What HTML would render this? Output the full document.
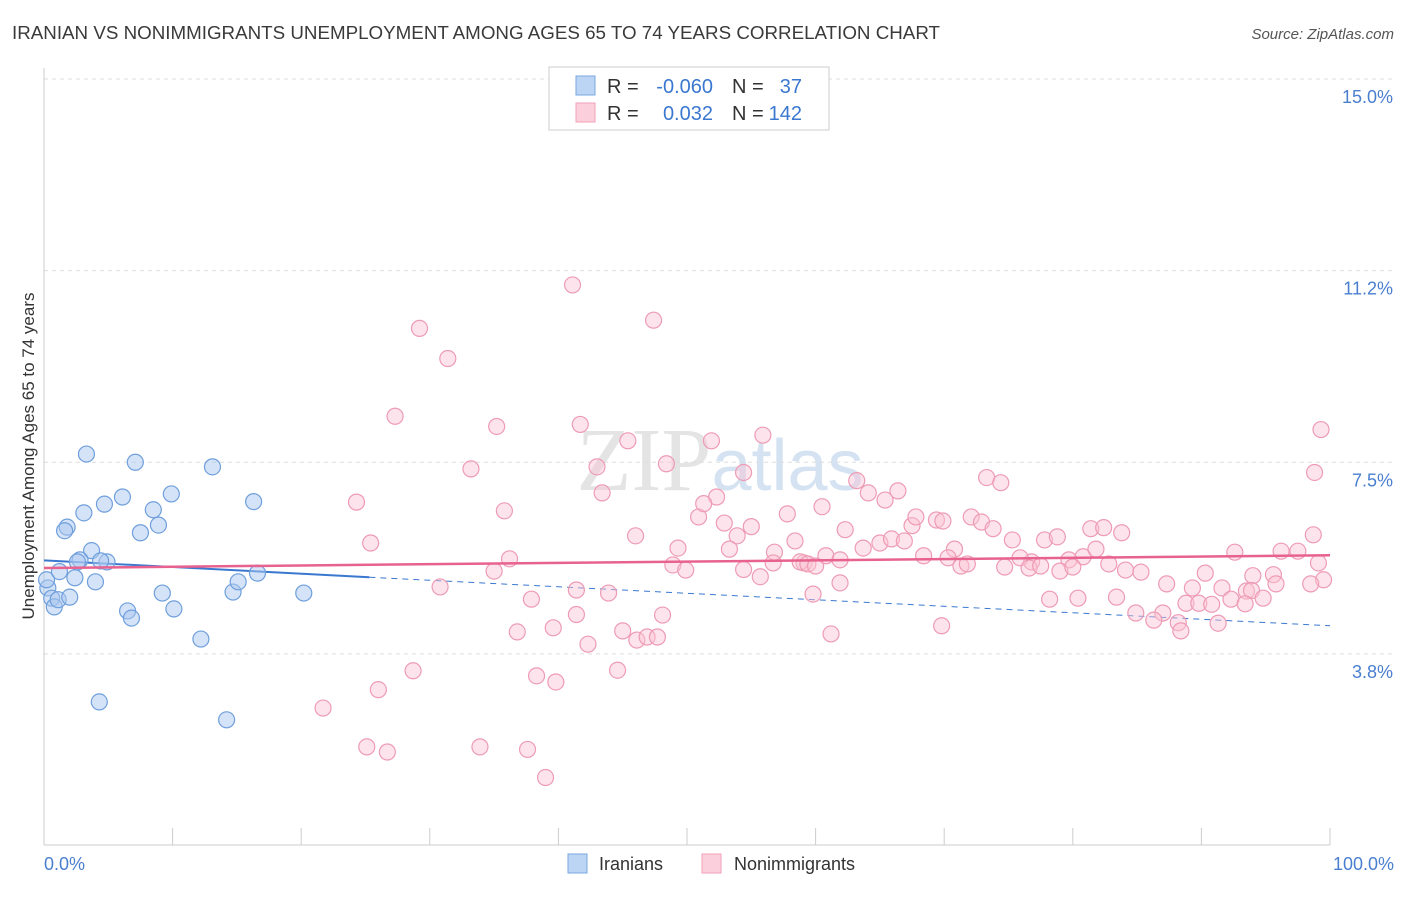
<!DOCTYPE html>
<html><head><meta charset="utf-8"><style>
body{margin:0;background:#fff;font-family:"Liberation Sans",sans-serif;}
</style></head><body>
<svg width="1406" height="892" xmlns="http://www.w3.org/2000/svg">
<text x="12" y="39" font-size="18" fill="#3a3a3a" textLength="928" lengthAdjust="spacingAndGlyphs">IRANIAN VS NONIMMIGRANTS UNEMPLOYMENT AMONG AGES 65 TO 74 YEARS CORRELATION CHART</text>
<text x="1394" y="39" font-size="15" fill="#555" font-style="italic" text-anchor="end">Source: ZipAtlas.com</text>
<text x="720" y="490" font-size="90" fill="#e4e4e4" text-anchor="middle" font-family="Liberation Serif,serif">ZIP<tspan fill="#d4e2f2" font-family="Liberation Sans,sans-serif" font-size="72">atlas</tspan></text>
<g id="grid"></g>
<line x1="44" y1="68" x2="44" y2="845" stroke="#ccc"/>
<line x1="44" y1="845" x2="1330" y2="845" stroke="#ccc"/>
<text x="34" y="456" font-size="17" fill="#333" text-anchor="middle" transform="rotate(-90 34 456)">Unemployment Among Ages 65 to 74 years</text>
<text x="44" y="870" font-size="18" fill="#4a7fd0">0.0%</text>
<text x="1394" y="870" font-size="18" fill="#4a7fd0" text-anchor="end">100.0%</text>
<g id="trend"></g>
<g id="pts"></g>
<g>
<rect x="549" y="67" width="280" height="63" fill="#fff" stroke="#ccc"/>
<rect x="576" y="76" width="19" height="19" fill="#bcd5f5" stroke="#7aa7e0"/>
<rect x="576" y="103" width="19" height="19" fill="#fbcfdc" stroke="#f0a0b8"/>
<text x="607" y="93" font-size="20" fill="#333">R =</text>
<text x="713" y="93" font-size="20" fill="#3a78d0" text-anchor="end">-0.060</text>
<text x="732" y="93" font-size="20" fill="#333">N =</text>
<text x="802" y="93" font-size="20" fill="#3a78d0" text-anchor="end">37</text>
<text x="607" y="120" font-size="20" fill="#333">R =</text>
<text x="713" y="120" font-size="20" fill="#3a78d0" text-anchor="end">0.032</text>
<text x="732" y="120" font-size="20" fill="#333">N =</text>
<text x="802" y="120" font-size="20" fill="#3a78d0" text-anchor="end">142</text>
</g>
<g>
<rect x="568" y="854" width="19" height="19" fill="#bcd5f5" stroke="#7aa7e0"/>
<text x="599" y="870" font-size="18" fill="#333">Iranians</text>
<rect x="702" y="854" width="19" height="19" fill="#fbcfdc" stroke="#f0a0b8"/>
<text x="734" y="870" font-size="18" fill="#333">Nonimmigrants</text>
</g>
</svg>
<script>
const yTicks=[15.0,11.25,7.5,3.75];
const yTickLabels=["15.0%","11.2%","7.5%","3.8%"];
const xTicks=[0,10,20,30,40,50,60,70,80,90,100];
const iranX=[0.3,0.6,0.8,1.1,0.2,1.2,2.0,2.4,1.8,1.6,3.1,3.3,3.7,4.0,2.8,4.7,4.9,4.4,6.1,7.1,7.5,6.5,6.8,8.5,8.9,9.2,9.9,10.1,12.2,13.1,14.2,14.7,15.1,16.3,16.6,20.2,4.3,2.6];
const iranY=[5.04,4.84,4.67,4.81,5.2,5.36,4.86,5.24,6.23,6.16,6.51,7.66,5.77,5.16,5.59,6.68,5.55,5.57,6.82,7.5,6.12,4.59,4.45,6.57,6.27,4.94,6.88,4.63,4.04,7.41,2.46,4.96,5.16,6.73,5.33,4.94,2.81,5.55];
const nonX=[41.1,47.4,29.2,31.4,27.3,35.2,41.7,45.4,51.9,55.9,99.3,98.8,33.2,43.0,48.4,24.3,35.8,43.4,52.3,50.9,51.3,54.4,60.5,63.2,64.1,65.4,66.4,25.4,46.0,49.3,52.9,53.9,55.0,53.3,56.8,57.8,58.4,59.1,60.8,62.3,63.7,65.0,65.9,66.9,67.5,67.8,69.4,69.9,70.8,72.1,72.9,73.3,74.4,73.8,75.3,76.8,77.8,78.8,79.7,80.8,81.4,82.4,83.8,81.8,36.2,35.0,48.9,49.9,54.4,55.7,56.7,58.8,59.4,60.0,61.9,68.4,70.3,71.3,71.8,74.7,75.9,76.6,77.5,79.0,80.0,82.8,84.1,85.3,87.3,89.3,90.3,91.6,92.6,94.0,95.6,96.2,97.5,98.7,99.1,99.5,98.5,30.8,41.4,43.9,59.8,61.9,78.2,80.4,83.4,84.9,87.0,88.2,88.8,89.8,90.8,92.3,93.5,93.9,95.8,94.8,41.4,69.8,45.0,48.1,86.3,88.4,91.3,93.4,37.9,36.8,42.3,46.1,46.9,47.7,61.2,39.6,44.6,28.7,38.3,39.8,26.0,21.7,26.7,33.9,37.6,25.1,39.0];
const nonY=[10.97,10.28,10.12,9.53,8.4,8.2,8.24,7.92,7.92,8.03,8.14,7.3,7.37,7.41,7.47,6.72,6.55,6.9,6.82,6.43,6.69,7.3,6.63,7.14,6.9,6.76,6.94,5.92,6.06,5.82,6.31,6.06,6.24,5.8,5.74,6.49,5.96,5.53,5.67,6.18,5.82,5.92,6.0,5.96,6.26,6.43,6.37,6.35,5.8,6.43,6.33,7.2,7.1,6.2,5.98,5.55,5.98,6.04,5.59,5.65,6.2,6.22,6.12,5.8,5.61,5.37,5.49,5.39,5.4,5.26,5.53,5.55,5.51,5.47,5.59,5.67,5.63,5.47,5.51,5.45,5.63,5.43,5.47,5.37,5.45,5.51,5.39,5.35,5.12,5.04,5.33,5.04,5.74,5.28,5.3,5.76,5.76,6.08,5.53,5.2,5.12,5.06,5.0,4.94,4.92,5.14,4.82,4.84,4.86,4.55,4.55,4.36,4.74,4.74,4.72,4.82,4.98,4.99,5.12,4.84,4.52,4.3,4.2,4.51,4.41,4.2,4.35,4.73,4.82,4.18,3.94,4.02,4.08,4.08,4.14,4.26,3.43,3.42,3.32,3.2,3.05,2.69,1.83,1.93,1.88,1.93,1.33,0.77];
const NS="http://www.w3.org/2000/svg";
const X=v=>44+v*12.86, Y=v=>845.5-v*51.1;
function mk(t,a,p){const e=document.createElementNS(NS,t);for(const k in a)e.setAttribute(k,a[k]);p.appendChild(e);return e;}
const grid=document.getElementById('grid');
yTicks.forEach((v,i)=>{
 const l=mk('line',{x1:44,x2:1394,y1:Y(v),y2:Y(v),stroke:'#ddd','stroke-dasharray':'4,4'},grid);
 
 
 const t=mk('text',{x:1393,y:Y(v)+24,'font-size':18,fill:'#4a7fd0','text-anchor':'end'},grid);
 t.textContent=yTickLabels[i];
 
 
});
xTicks.forEach(v=>{
 const l=mk('line',{x1:X(v),x2:X(v),y1:828,y2:845,stroke:'#ccc'},grid);
 
 
});
const tr=document.getElementById('trend');
let b1=mk('line',{x1:X(0),y1:Y(5.58),x2:X(25.3),y2:Y(5.25),stroke:'#3a78d0','stroke-width':2},tr);


let b2=mk('line',{x1:X(25.3),y1:Y(5.25),x2:X(100),y2:Y(4.3),stroke:'#3a78d0','stroke-width':1,'stroke-dasharray':'6,5'},tr);


const pts=document.getElementById('pts');
iranX.forEach((x,i)=>{
 const c=mk('circle',{cx:X(x),cy:Y(iranY[i]),r:8,fill:'rgba(170,200,240,0.5)',stroke:'#6f9fdc','stroke-width':1.2},pts);
 
 
});
nonX.forEach((x,i)=>{
 const c=mk('circle',{cx:X(x),cy:Y(nonY[i]),r:8,fill:'rgba(250,195,212,0.45)',stroke:'#ee9bb5','stroke-width':1.2},pts);
 
 
});
let p1=mk('line',{x1:X(0),y1:Y(5.43),x2:X(100),y2:Y(5.68),stroke:'#e8628f','stroke-width':2.5},pts);


</script>
</body></html>
